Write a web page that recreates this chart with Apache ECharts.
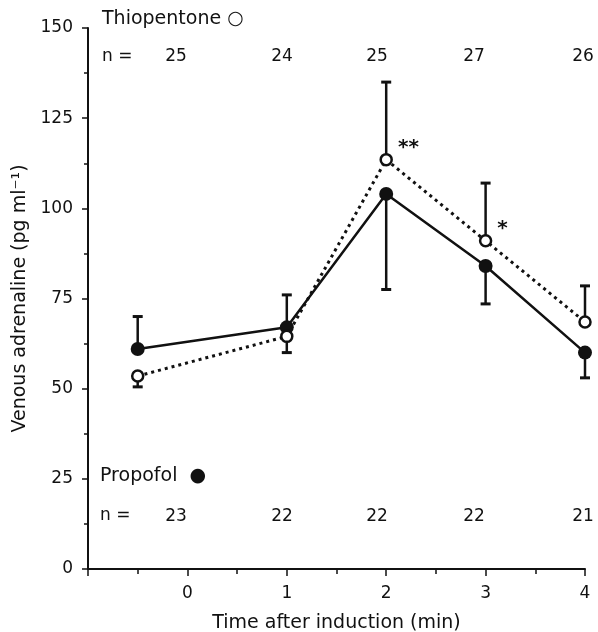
<!DOCTYPE html>
<html>
<head>
<meta charset="utf-8">
<script src="https://cdn.jsdelivr.net/npm/echarts@6/dist/echarts.min.js"></script>
<style>
  html, body { margin: 0; padding: 0; background: #fff; }
  #chart { width: 598px; height: 632px; }
</style>
</head>
<body>
<div id="chart"></div>
<script>
// === DONNEES ===
const temps = [-0.5, 1, 2, 3, 4];
const propofol = [61, 67, 104, 84, 60];
const thiopentone = [53.5, 64.5, 113.5, 91, 68.5];
// extrémité de la barre d'erreur (une seule direction par point)
const propofolErr = [70, 76, 77.5, 73.5, 53];
const thiopentoneErr = [50.5, 60, 135, 107, 78.5];
const signif = ["", "", "**", "*", ""];
const nThio = [25, 24, 25, 27, 26];
const nProp = [23, 22, 22, 22, 21];
const xTicks = [0, 1, 2, 3, 4];

// mise en page des textes d'effectifs
const nLabelX = [176, 282, 377, 474, 583];
const police = "'DejaVu Sans', sans-serif";

function paires(xs, ys) {
    return xs.map((x, i) => [x, ys[i]]);
}

function barresErreur(xs, centres, bouts) {
    return xs.map((x, i) => [x, centres[i], bouts[i]]);
}

function renderErreur(params, api) {
    const p0 = api.coord([api.value(0), api.value(1)]);
    const p1 = api.coord([api.value(0), api.value(2)]);
    return {
        type: "group",
        children: [
            { type: "line", shape: { x1: p0[0], y1: p0[1], x2: p1[0], y2: p1[1] }, style: { stroke: "#111", lineWidth: 2.5 } },
            { type: "line", shape: { x1: p1[0] - 5, y1: p1[1], x2: p1[0] + 5, y2: p1[1] }, style: { stroke: "#111", lineWidth: 3 } }
        ]
    };
}

// textes fixes (légende et effectifs)
const richSymb = { s: { fontSize: 19, fontFamily: police, fill: "#111" }, p: { fontSize: 19, fontFamily: police, fill: "#111" } };
const graphiques = [
    { type: "text", left: 102, top: 10, style: { text: "Thiopentone {s|○}", font: "19px " + police, fill: "#111", rich: richSymb } },
    { type: "text", left: 102, top: 48, style: { text: "n =", font: "17px " + police, fill: "#111" } },
    { type: "text", left: 100, top: 467, style: { text: "Propofol  {p|●}", font: "19px " + police, fill: "#111", rich: richSymb } },
    { type: "text", left: 100, top: 507, style: { text: "n =", font: "17px " + police, fill: "#111" } }
];
nThio.forEach((n, i) => {
    graphiques.push({ type: "text", x: nLabelX[i], y: 57, style: { text: String(n), font: "17px " + police, fill: "#111", align: "center", verticalAlign: "middle" } });
});
nProp.forEach((n, i) => {
    graphiques.push({ type: "text", x: nLabelX[i], y: 517, style: { text: String(n), font: "17px " + police, fill: "#111", align: "center", verticalAlign: "middle" } });
});

const chart = echarts.init(document.getElementById("chart"), null, { renderer: "canvas" });
const option = {
    animation: false,
    backgroundColor: "#fff",
    textStyle: { fontFamily: police, color: "#111" },
    grid: { left: 88, right: 13, top: 28, bottom: 63, containLabel: false, outerBoundsMode: "none" },
    graphic: graphiques,
    xAxis: {
        type: "value",
        min: -1,
        max: 4,
        interval: 1,
        minorTick: { show: true, splitNumber: 2, length: 5, lineStyle: { color: "#111", width: 1.5 } },
        axisLine: { show: true, onZero: false, lineStyle: { color: "#111", width: 2 } },
        axisTick: { show: true, length: 7, lineStyle: { color: "#111", width: 1.5 } },
        axisLabel: {
            color: "#111", fontSize: 17, margin: 16,
            formatter: v => (xTicks.includes(v) ? String(v) : "")
        },
        splitLine: { show: false },
        name: "Time after induction (min)",
        nameLocation: "middle",
        nameGap: 45,
        nameTextStyle: { fontSize: 19, color: "#111" }
    },
    yAxis: {
        type: "value",
        min: 0,
        max: 150,
        interval: 25,
        minorTick: { show: true, splitNumber: 2, length: 4, lineStyle: { color: "#111", width: 1.5 } },
        axisLine: { show: true, onZero: false, lineStyle: { color: "#111", width: 2 } },
        axisTick: { show: true, length: 6, lineStyle: { color: "#111", width: 1.5 } },
        axisLabel: { color: "#111", fontSize: 17, margin: 15 },
        splitLine: { show: false },
        name: "Venous adrenaline (pg ml⁻¹)",
        nameLocation: "middle",
        nameGap: 56,
        nameTextStyle: { fontSize: 19, color: "#111" }
    },
    series: [
        {
            type: "custom",
            renderItem: renderErreur,
            data: barresErreur(temps, propofol, propofolErr),
            z: 1
        },
        {
            type: "custom",
            renderItem: renderErreur,
            data: barresErreur(temps, thiopentone, thiopentoneErr),
            z: 1
        },
        {
            name: "Thiopentone",
            type: "line",
            data: paires(temps, thiopentone),
            symbol: "circle",
            symbolSize: 11,
            lineStyle: { color: "#111", width: 3, type: [3, 4] },
            itemStyle: { color: "#fff", borderColor: "#111", borderWidth: 2.5 },
            label: {
                show: true,
                position: "right",
                offset: [0, -12],
                fontSize: 20,
                fontWeight: "bold",
                color: "#111",
                formatter: p => signif[p.dataIndex]
            },
            z: 3
        },
        {
            name: "Propofol",
            type: "line",
            data: paires(temps, propofol),
            symbol: "circle",
            symbolSize: 14,
            lineStyle: { color: "#111", width: 2.5 },
            itemStyle: { color: "#111" },
            z: 2
        }
    ]
};
chart.setOption(option);
window.addEventListener("resize", () => chart.resize());
</script>
</body>
</html>
